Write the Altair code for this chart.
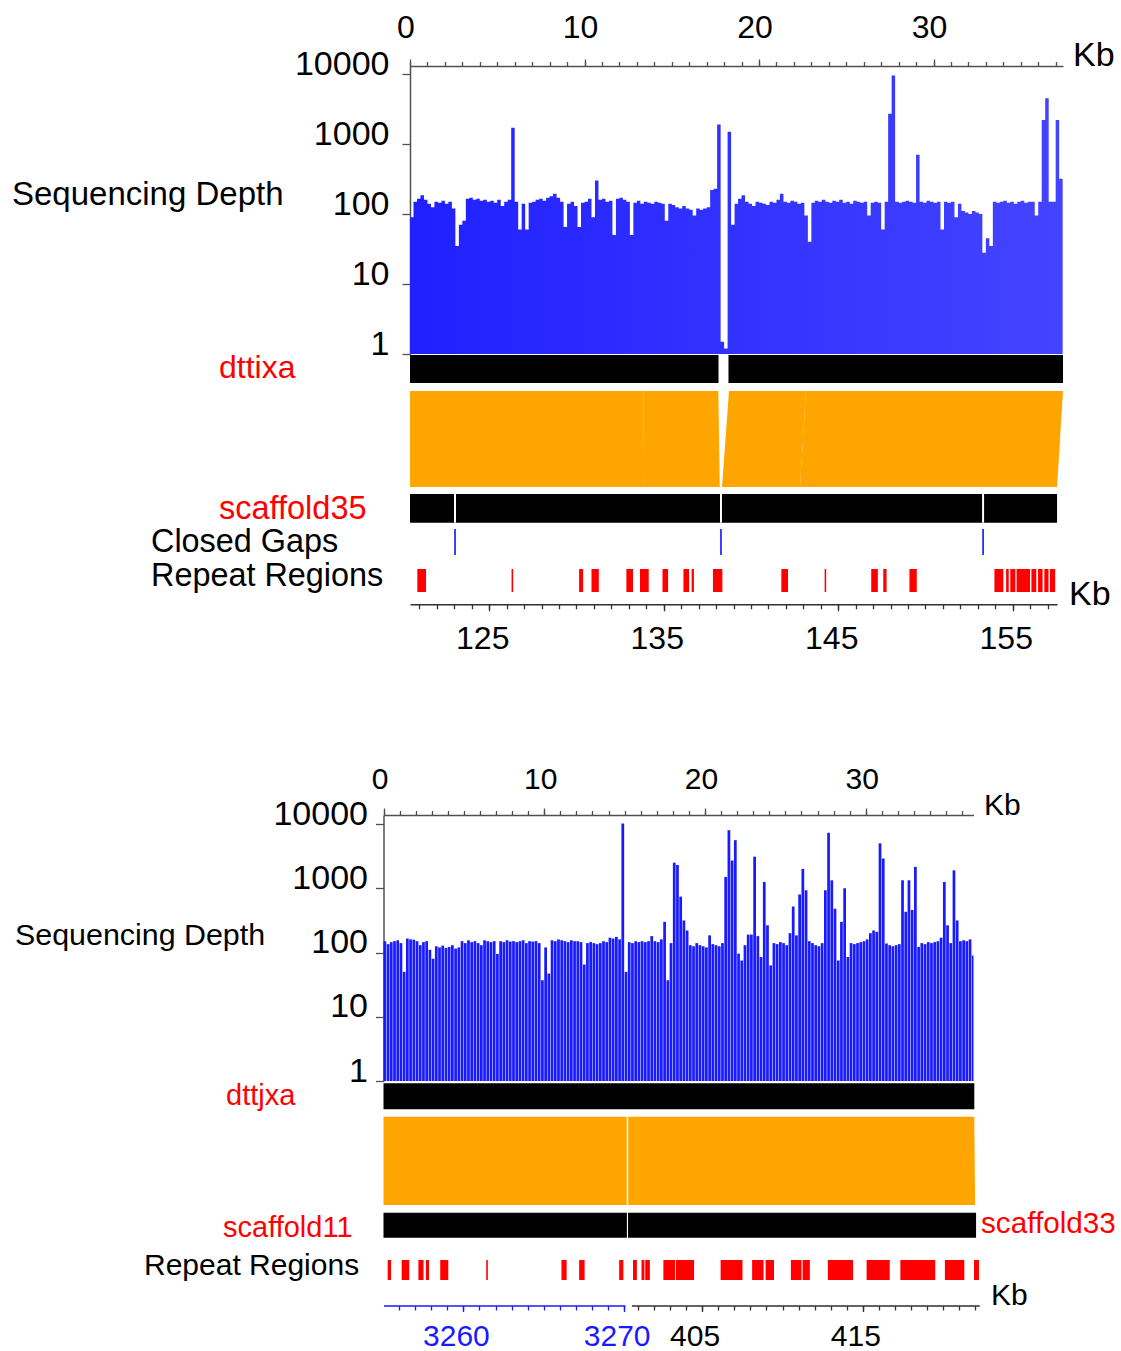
import altair as alt
import pandas as pd

FONT = "Liberation Sans"
AXIS_GREY = "#505050"
DEPTH_BLUE = "#1a1aff"
GAP_BLUE = "#0000ff"
RED = "#ff0000"
ORANGE = "#ffa500"

STEP = 0.2  # kb per depth bin

# ================= Panel 1 data (dttixa vs scaffold35) =================
depth1 = [
    90, 150, 165, 185, 160, 140, 125, 150, 145, 155,
    140, 150, 120, 35, 70, 80, 165, 170, 160, 165,
    155, 160, 150, 155, 145, 160, 130, 150, 160, 1700,
    150, 60, 140, 60, 145, 150, 160, 165, 155, 170,
    180, 195, 170, 150, 65, 140, 150, 130, 65, 145,
    150, 165, 90, 300, 160, 165, 150, 155, 50, 165,
    170, 160, 150, 50, 145, 155, 140, 150, 145, 140,
    150, 145, 140, 80, 140, 135, 125, 120, 130, 120,
    115, 95, 120, 115, 120, 125, 220, 230, 1900, 1.5,
    1.2, 1500, 70, 140, 165, 185, 150, 140, 130, 150,
    145, 140, 135, 150, 145, 160, 195, 150, 145, 155,
    150, 140, 145, 95, 40, 145, 155, 150, 160, 150,
    145, 155, 150, 160, 145, 150, 140, 155, 150, 145,
    150, 95, 145, 150, 145, 60, 150, 2700, 9500, 150,
    145, 150, 155, 150, 145, 700, 150, 145, 155, 150,
    145, 150, 60, 150, 145, 150, 90, 140, 110, 105,
    100, 110, 105, 100, 28, 45, 35, 150, 145, 150,
    155, 145, 150, 140, 150, 155, 145, 150, 150, 95,
    150, 2200, 4500, 150, 150, 2200, 320, 12,
]
top_ticks = [0, 10, 20, 30]
depth_ticks = [1, 10, 100, 1000, 10000]
dttixa_start = [0.0, 18.25]
dttixa_end = [17.68, 37.42]
syn1_top_start = [0.0, 13.37, 18.28, 22.69]
syn1_top_end = [13.37, 17.67, 22.69, 37.42]
syn1_bot_start = [0.0, 13.42, 17.88, 22.35]
syn1_bot_end = [13.42, 17.75, 22.35, 37.08]
scaf35_start = [120.46]
scaf35_end = [157.54]
closed_gaps35 = [123.04, 138.28, 153.30]
rep35_start = [120.88, 126.28, 130.15, 130.86, 132.86, 133.64, 134.93, 136.13, 136.60,
               137.82, 141.74, 144.22, 146.89, 147.58, 149.08, 153.95, 154.62, 154.86,
               155.22, 156.07, 156.45, 156.81, 157.13]
rep35_end = [121.38, 126.37, 130.38, 131.28, 133.24, 134.14, 135.25, 136.45, 136.73,
             138.36, 142.12, 144.31, 147.27, 147.77, 149.50, 154.46, 154.77, 155.15,
             155.99, 156.35, 156.71, 157.05, 157.43]
scaf35_ticks = [125, 135, 145, 155]
labels1 = ["Sequencing Depth", "dttixa", "scaffold35", "Closed Gaps", "Repeat Regions", "Kb", "Kb"]

# ================= Panel 2 data (dttjxa vs scaffold11 / scaffold33) =================
depth2 = [
    150, 135, 145, 150, 155, 140, 50, 165, 160, 158,
    150, 130, 145, 150, 110, 80, 125, 120, 128, 118,
    122, 130, 115, 120, 150, 140, 155, 145, 150, 140,
    130, 155, 150, 145, 150, 95, 150, 145, 155, 148,
    150, 145, 150, 155, 140, 150, 148, 150, 140, 37,
    120, 47, 155, 150, 160, 155, 150, 145, 155, 150,
    150, 145, 65, 140, 145, 140, 135, 140, 150, 145,
    170, 165, 175, 160, 10200, 50, 145, 140, 150, 145,
    150, 145, 150, 180, 150, 145, 160, 300, 37, 140,
    2500, 2300, 740, 315, 220, 130, 125, 140, 130, 125,
    120, 185, 135, 130, 125, 140, 1500, 8000, 2700, 5600,
    96, 75, 130, 190, 190, 3100, 180, 85, 1250, 265,
    63, 140, 135, 145, 140, 130, 200, 520, 185, 800,
    2000, 930, 150, 140, 130, 125, 140, 930, 7300, 1330,
    480, 75, 300, 1000, 85, 140, 135, 140, 145, 150,
    160, 200, 220, 210, 5000, 2900, 138, 130, 125, 130,
    135, 1330, 430, 1330, 460, 2150, 122, 140, 135, 145,
    140, 145, 150, 170, 1250, 265, 140, 1900, 315, 150,
    155, 150, 160, 90,
]
dttjxa_start = [0.0]
dttjxa_end = [36.75]
syn2_top_start = [0.0, 15.22]
syn2_top_end = [15.13, 36.75]
syn2_bot_start = [0.0, 15.22]
syn2_bot_end = [15.13, 36.80]
scaf11_start = [3255.03]
scaf11_end = [3270.17]
scaf33_start = [400.39]
scaf33_end = [422.04]
rep2_start = [0.26, 1.13, 2.17, 2.64, 3.53, 6.39, 11.07, 12.17, 14.66, 15.52, 16.05, 16.28,
              17.41, 18.19, 20.97, 22.93, 23.77, 25.34, 26.07, 27.64, 30.05, 32.15, 34.92, 36.73]
rep2_end = [0.47, 1.60, 2.49, 2.83, 4.03, 6.49, 11.39, 12.51, 14.92, 15.76, 16.23, 16.57,
            18.14, 19.32, 22.33, 23.64, 24.29, 26.00, 26.52, 29.21, 31.49, 34.32, 36.13, 37.04]
scaf11_ticks = [3260, 3270]
scaf33_ticks = [405, 415]
labels2 = ["Sequencing Depth", "dttjxa", "scaffold11", "scaffold33", "Repeat Regions", "Kb", "Kb"]


# ================= layout (canvas pixels) =================
X0, Y0 = 410.0, 66.0            # origin of the single plot group (panel 1 depth plot)
W1, H1, KB1 = 653, 288, 37.42
PX1 = W1 / KB1
YTOP1 = 10 ** (4 + 8 / 70)

X2, Y2 = 383.5, 815.0           # panel 2 depth plot origin (canvas)
W2, H2, KB2 = 590, 266, 36.7
PX2 = W2 / KB2
YTOP2 = 10 ** (4 + 9 / 64.25)
DX2, DY2 = X2 - X0, Y2 - Y0     # panel 2 offset from the group origin

S33_0 = 385.18                  # scaffold33 coordinate aligned with dttjxa 0 (extrapolated)


# ================= helpers =================
def lin(lo, hi, r0, r1):
    return alt.Scale(domain=[lo, hi], range=[r0, r1], nice=False, zero=False)


def axis(orient, values, tick, size=30, pad=10, color=AXIS_GREY, label_color="black",
         labels=True, domain=True, **kw):
    args = dict(orient=orient, values=values, tickSize=tick, tickColor=color, tickWidth=1.3,
                domain=domain, domainColor=color, domainWidth=1.5, grid=False, title=None,
                labels=labels)
    if labels:
        args.update(labelFont=FONT, labelFontSize=size, labelPadding=pad, labelColor=label_color,
                    labelBaseline="alphabetic", labelFlush=False, labelOverlap=False,
                    labelBound=False, format="d")
    args.update(kw)
    return alt.Axis(**args)


def text_layer(txt, x, y, size, color):
    return alt.Chart(pd.DataFrame({"t": [txt]})).mark_text(
        align="left", baseline="alphabetic", font=FONT, fontSize=size, color=color
    ).encode(text="t:N", x=alt.value(x - X0), y=alt.value(y - Y0))


def anchor(x, y):
    return alt.Chart(pd.DataFrame({"a": [0]})).mark_rect(color="white").encode(
        x=alt.value(x - X0), x2=alt.value(x - X0 + 1),
        y=alt.value(y - Y0), y2=alt.value(y - Y0 + 1))


def syn_table(ts, te, bs, be):
    rows = []
    for i in range(len(ts)):
        rows.append({"blk": i, "lvl": 0, "l": ts[i], "r": te[i]})
        rows.append({"blk": i, "lvl": 1, "l": bs[i], "r": be[i]})
    return pd.DataFrame(rows)


def span_table(s, e):
    return pd.DataFrame({"s": s, "e": e})


def band(cy0, cy1):
    return dict(y=alt.value(cy0 - Y0), y2=alt.value(cy1 - Y0))


# ================= Panel 1 =================
def xs1():
    return lin(0, KB1, 0, W1)


def xs35():
    return lin(scaf35_start[0], scaf35_end[0], 0, (scaf35_end[0] - scaf35_start[0]) * PX1)


df1 = pd.DataFrame({"kb": [round(i * STEP, 3) for i in range(len(depth1))], "depth": depth1})
grad = alt.LinearGradient(
    gradient="linear",
    stops=[alt.GradientStop(color="#2020ff", offset=0), alt.GradientStop(color="#4444ff", offset=1)],
    x1=0, x2=1, y1=0, y2=0)

area1 = alt.Chart(df1).mark_area(interpolate="step-after", color=grad).encode(
    x=alt.X("kb:Q", scale=xs1(),
            axis=axis("top", top_ticks, 7, size=32, pad=22, labelOffset=-4.5)),
    y=alt.Y("depth:Q", scale=alt.Scale(type="log", domain=[1, YTOP1], range=[H1, 0], nice=False),
            axis=axis("left", depth_ticks, 8, size=34, pad=13)),
    y2=alt.datum(1),
)
bar1 = alt.Chart(span_table(dttixa_start, dttixa_end)).mark_rect(color="black").encode(
    x=alt.X("s:Q", scale=xs1(),
            axis=axis("top", list(range(0, 38)), 4.5, labels=False, domain=False)),
    x2="e:Q", **band(355, 383))
orange1 = alt.Chart(syn_table(syn1_top_start, syn1_top_end, syn1_bot_start, syn1_bot_end)).mark_area(
    orient="horizontal", color=ORANGE).encode(
    y=alt.Y("lvl:Q", scale=lin(0, 1, 391 - Y0, 487 - Y0), axis=None),
    x=alt.X("l:Q", scale=xs1(), axis=None), x2="r:Q", detail="blk:N")
scaf1 = alt.Chart(span_table(scaf35_start, scaf35_end)).mark_rect(color="black").encode(
    x=alt.X("s:Q", scale=xs35(),
            axis=axis("bottom", scaf35_ticks, 6.5, size=32, pad=37.5, labelOffset=-7,
                      offset=604.3 - Y0 - H1, color="#303030")),
    x2="e:Q", **band(494, 522.7))
gapsdf = pd.DataFrame({"g": closed_gaps35})
seams1 = alt.Chart(gapsdf).mark_rule(color="white", strokeWidth=2).encode(
    x=alt.X("g:Q", scale=xs35(), axis=None), **band(494, 522.7))
gaps1 = alt.Chart(gapsdf).mark_rule(color=GAP_BLUE, strokeWidth=1.5).encode(
    x=alt.X("g:Q", scale=xs35(), axis=None), **band(529, 555))
rep1 = alt.Chart(span_table(rep35_start, rep35_end)).mark_rect(color=RED).encode(
    x=alt.X("s:Q", scale=xs35(),
            axis=axis("bottom", list(range(121, 158)), 4.5, labels=False, domain=False,
                      offset=604.3 - Y0 - H1, color="#303030")),
    x2="e:Q", **band(569, 592))

pos1 = [(12, 205, 33, "black"), (219, 378, 32, RED), (219, 519, 32.5, RED),
        (151, 552, 32.4, "black"), (151, 585.5, 32.4, "black"), (1073, 66, 34, "black"),
        (1069, 605, 34, "black")]
texts1 = [text_layer(t, x, y, s, c) for t, (x, y, s, c) in zip(labels1, pos1)]


# ================= Panel 2 =================
def xs2():
    return lin(0, KB2, DX2, DX2 + W2)


def xs11():
    return lin(scaf11_start[0], 3270.05, DX2, DX2 + (3270.05 - scaf11_start[0]) * PX2)


def xs33():
    return lin(400.6, 422.24, DX2 + (400.6 - S33_0) * PX2, DX2 + (422.24 - S33_0) * PX2)


BOT2 = 1305.5 - Y0 - H1   # bottom axis offset for panel 2

df2 = pd.DataFrame({"kb": [round(i * STEP, 3) for i in range(len(depth2))], "depth": depth2})
bars2 = alt.Chart(df2).transform_calculate(
    kb2="min(datum.kb + 0.17, 36.7)"
).mark_rect(color=DEPTH_BLUE).encode(
    x=alt.X("kb:Q", scale=xs2(),
            axis=axis("top", top_ticks, 7, size=30, pad=19.5, labelOffset=-4, offset=-DY2)),
    x2="kb2:Q",
    y=alt.Y("depth:Q", scale=alt.Scale(type="log", domain=[1, YTOP2],
                                       range=[DY2 + H2, DY2], nice=False),
            axis=axis("left", depth_ticks, 8, size=34, pad=8, offset=-DX2)),
    y2=alt.datum(1),
)
bar2 = alt.Chart(span_table(dttjxa_start, dttjxa_end)).mark_rect(color="black").encode(
    x=alt.X("s:Q", scale=xs2(),
            axis=axis("top", list(range(0, 37)), 4.5, labels=False, domain=False, offset=-DY2)),
    x2="e:Q", **band(1083.3, 1109.3))
orange2 = alt.Chart(syn_table(syn2_top_start, syn2_top_end, syn2_bot_start, syn2_bot_end)).mark_area(
    orient="horizontal", color=ORANGE).encode(
    y=alt.Y("lvl:Q", scale=lin(0, 1, 1116.7 - Y0, 1205 - Y0), axis=None),
    x=alt.X("l:Q", scale=xs2(), axis=None), x2="r:Q", detail="blk:N")

s11 = alt.Chart(span_table(scaf11_start, scaf11_end))
scaf11 = s11.mark_rect(color="black").encode(
    x=alt.X("s:Q", scale=xs11(),
            axis=axis("bottom", scaf11_ticks, 6, size=30, pad=33.5, labelOffset=-7.5, offset=BOT2,
                      color=DEPTH_BLUE, label_color=DEPTH_BLUE)),
    x2="e:Q", **band(1212.7, 1237.7))
scaf11_minor = s11.mark_rect(opacity=0).encode(
    x=alt.X("s:Q", scale=xs11(),
            axis=axis("bottom", list(range(3256, 3271)), 4.5, labels=False, domain=False,
                      offset=BOT2, color=DEPTH_BLUE)),
    x2="e:Q", **band(1212.7, 1237.7))
s33 = alt.Chart(span_table(scaf33_start, scaf33_end))
scaf33 = s33.mark_rect(color="black").encode(
    x=alt.X("s:Q", scale=xs33(),
            axis=axis("bottom", scaf33_ticks, 6, size=30, pad=33.5, labelOffset=-7.5, offset=BOT2,
                      color="#303030")),
    x2="e:Q", **band(1212.7, 1237.7))
scaf33_minor = s33.mark_rect(opacity=0).encode(
    x=alt.X("s:Q", scale=xs33(),
            axis=axis("bottom", list(range(401, 423)), 4.5, labels=False, domain=False,
                      offset=BOT2, color="#303030")),
    x2="e:Q", **band(1212.7, 1237.7))
rep2 = alt.Chart(span_table(rep2_start, rep2_end)).mark_rect(color=RED).encode(
    x=alt.X("s:Q", scale=xs2(), axis=None), x2="e:Q", **band(1260, 1280))

pos2 = [(15, 945, 30.4, "black"), (226, 1105, 29, RED), (223, 1237, 29, RED),
        (981, 1233, 29.7, RED), (144, 1275, 30, "black"), (984, 815, 30, "black"),
        (991, 1305, 30, "black")]
texts2 = [text_layer(t, x, y, s, c) for t, (x, y, s, c) in zip(labels2, pos2)]

chart = alt.layer(
    anchor(0, 0), anchor(1120, 1350),
    area1, bar1, orange1, scaf1, seams1, gaps1, rep1, *texts1,
    bars2, bar2, orange2, scaf11, scaf11_minor, scaf33, scaf33_minor, rep2, *texts2,
).resolve_scale(x="independent", y="independent").properties(
    width=W1, height=H1, padding=0, background="white"
).configure_view(stroke=None)

chart.save("out.html", embed_options={"renderer": "svg", "actions": False})
